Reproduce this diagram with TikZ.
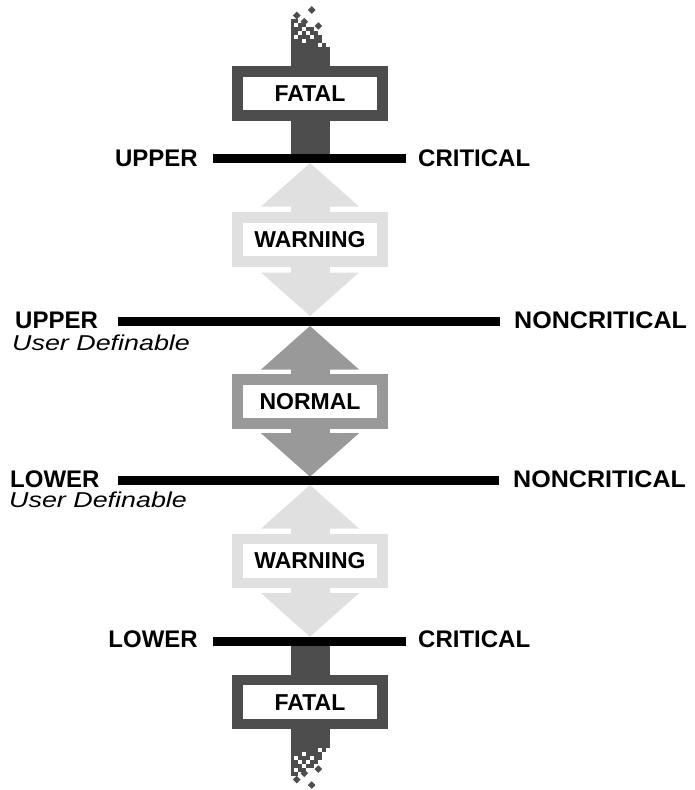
\documentclass[tikz,border=0pt]{standalone}
\usepackage{fontspec}
\setmainfont{Liberation Sans}
\newfontfamily\widefont[FakeStretch=1.25]{Liberation Sans}
\newfontfamily\nonfont[FakeStretch=1.045]{Liberation Sans}
\definecolor{fatalc}{HTML}{4D4D4D}
\definecolor{warnc}{HTML}{E0E0E0}
\definecolor{normc}{HTML}{999999}
\tikzset{
  lbl/.style={font=\fontsize{24}{28}\selectfont\bfseries, inner sep=0pt, text=black},
  widelbl/.style={font=\nonfont\fontsize{24}{28}\selectfont\bfseries, inner sep=0pt, text=black},
  sublbl/.style={font=\widefont\itshape\fontsize{21.5}{25}\selectfont, inner sep=0pt, text=black},
  limitline/.style={line width=8.6pt, draw=black},
  statebox/.style={draw=#1, line width=10.7pt, fill=white, minimum width=145pt,
    minimum height=44pt, inner sep=0pt, text=black,
    font=\fontsize{23}{27}\selectfont\bfseries},
}
% #1 top tip y, #2 bottom tip y, #3 colour, #4 node name, #5 text
\newcommand\dblarrow[5]{%
  \fill[#3] (310,#1) -- (359,{#1+43.5}) -- (261,{#1+43.5}) -- cycle;
  \fill[#3] (290.5,{#1+43}) rectangle (329.5,{#2-43});
  \fill[#3] (310,#2) -- (359,{#2-43.5}) -- (261,{#2-43.5}) -- cycle;
  \node[statebox=#3] (#4) at (310,{(#1+#2)/2}) {#5};
}
\newcommand\pixeltop{%
  \fill[fatalc] (290.5,47) rectangle (329.5,154);
  \foreach \r/\cols in {0/{0,1,2,3,4,5,6,8},1/{0,1,2,4,5,6,7},2/{0,2,3,4,6,7},
      3/{0,1,3,5,6},4/{0,1,2,4,5},5/{0,2,3},6/{0,1}}{
    \foreach \c in \cols {
      \fill[fatalc] ({290.5+3.9*\c},{47-4*(\r+1)}) rectangle ++(3.9,4);
    }
  }
  \foreach \dx/\dy in {311.7/10,296.7/15.5,304.3/21.7,318.3/26}{
    \fill[fatalc] (\dx,\dy-3.8) -- (\dx+3.8,\dy) -- (\dx,\dy+3.8) -- (\dx-3.8,\dy) -- cycle;
  }
}
\begin{document}
\begin{tikzpicture}[x=1pt,y=-1pt]
\useasboundingbox (0,0) rectangle (694,790);

% fatal columns
\begin{scope}
  \pixeltop
\end{scope}
\begin{scope}[shift={(0,795)},yscale=-1]
  \pixeltop
\end{scope}
\node[statebox=fatalc] (fatalTop) at (310,93.4) {FATAL};
\node[statebox=fatalc] (fatalBot) at (310,702.1) {FATAL};

% warning / normal arrows
\dblarrow{163}{316}{warnc}{warnTop}{WARNING}
\dblarrow{326}{476.7}{normc}{normal}{NORMAL}
\dblarrow{485}{636.7}{warnc}{warnBot}{WARNING}

% limit lines
\coordinate (ucL) at (213,158.5); \coordinate (ucR) at (406,158.5);
\coordinate (unL) at (118,321.5); \coordinate (unR) at (500,321.5);
\coordinate (lnL) at (118,480.5); \coordinate (lnR) at (499,480.5);
\coordinate (lcL) at (213,641.5); \coordinate (lcR) at (406,641.5);
\draw[limitline] (ucL) -- (ucR);
\draw[limitline] (unL) -- (unR);
\draw[limitline] (lnL) -- (lnR);
\draw[limitline] (lcL) -- (lcR);

% labels
\node[lbl, anchor=base east] (tUpper) at (198,166.5) {UPPER};
\node[lbl, anchor=base west] (tCrit) at (418,166.5) {CRITICAL};
\node[lbl, anchor=base west] (mUpper) at (15,328.5) {UPPER};
\node[widelbl, anchor=base west] (mNonU) at (514,328.5) {NONCRITICAL};
\node[sublbl, anchor=base west] (mUserU) at (12,350.5) {User Definable};
\node[lbl, anchor=base west] (mLower) at (10,487) {LOWER};
\node[widelbl, anchor=base west] (mNonL) at (513,487) {NONCRITICAL};
\node[sublbl, anchor=base west] (mUserL) at (9,507.5) {User Definable};
\node[lbl, anchor=base east] (bLower) at (198,647) {LOWER};
\node[lbl, anchor=base west] (bCrit) at (418,647) {CRITICAL};
\end{tikzpicture}
\end{document}
